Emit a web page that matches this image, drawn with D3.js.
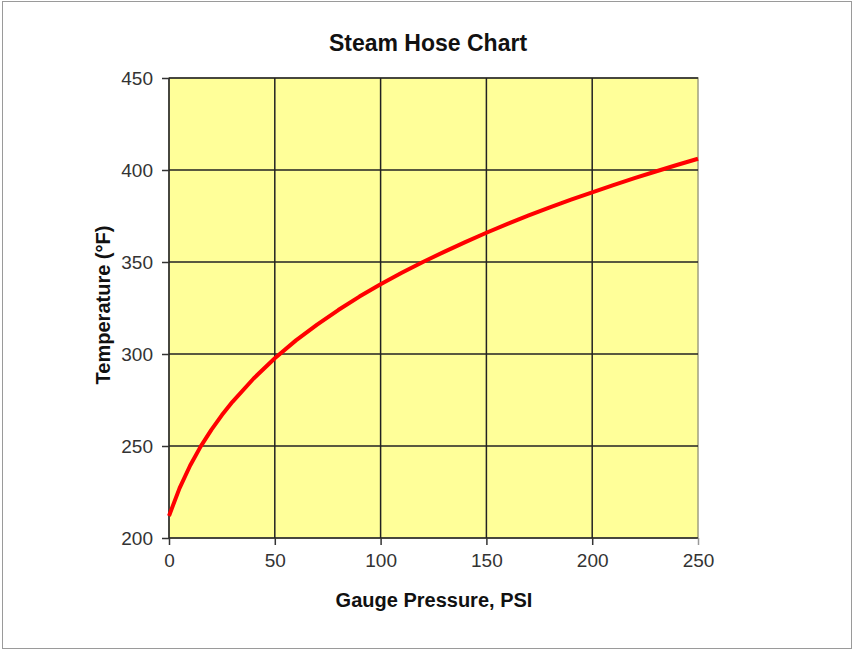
<!DOCTYPE html>
<html lang="en">
<head>
    <meta charset="UTF-8">
    <title>Steam Hose Chart</title>
    <script src="https://d3js.org/d3.v7.min.js"></script>
    <style>
        body { margin: 0; background: #fff; }
        text { font-family: "Liberation Sans", Arial, sans-serif; }
    </style>
</head>
<body>
    <div id="chart"></div>

    <script>
        // Gauge pressure (psi) and saturated steam temperature (°F)
        const pressure = [0, 5, 10, 15, 20, 25, 30, 40, 50, 60, 70, 80, 90, 100, 110, 120, 130, 140,
                          150, 160, 170, 180, 190, 200, 210, 220, 230, 240, 250];
        const temperature = [212.0, 227.1, 239.4, 249.8, 258.8, 266.8, 274.0, 286.7, 297.7, 307.4, 316.0,
                             323.9, 331.2, 337.9, 344.1, 350.0, 355.5, 360.8, 365.9, 370.7, 375.3, 379.7,
                             383.9, 387.9, 391.8, 395.6, 399.2, 402.7, 406.1];
        const xTicks = [0, 50, 100, 150, 200, 250];
        const yTicks = [200, 250, 300, 350, 400, 450];

        const width = 853, height = 650;
        const margin = { top: 78, right: 155, bottom: 112, left: 169 };
        const plotW = width - margin.left - margin.right;
        const plotH = height - margin.top - margin.bottom;

        const svg = d3.select("#chart")
            .append("svg")
            .attr("width", width)
            .attr("height", height);

        // outer frame
        svg.append("rect")
            .attr("x", 2.5).attr("y", 1.5)
            .attr("width", 849).attr("height", 647)
            .attr("fill", "none")
            .attr("stroke", "#9a9a9a")
            .attr("stroke-width", 1);

        const g = svg.append("g")
            .attr("transform", "translate(" + margin.left + "," + margin.top + ")");

        const x = d3.scaleLinear().domain([0, 250]).range([0, plotW]);
        const y = d3.scaleLinear().domain([200, 450]).range([plotH, 0]);

        // plot background
        g.append("rect")
            .attr("width", plotW)
            .attr("height", plotH)
            .attr("fill", "#ffff99")
            .attr("stroke", "#a0a080")
            .attr("stroke-width", 1.5);

        // gridlines
        g.selectAll(".vgrid")
            .data(xTicks.filter(d => d < 250))
            .enter().append("line")
            .attr("class", "vgrid")
            .attr("x1", d => x(d)).attr("x2", d => x(d))
            .attr("y1", 0).attr("y2", plotH)
            .attr("stroke", "#222")
            .attr("stroke-width", 1.5);

        g.selectAll(".hgrid")
            .data(yTicks)
            .enter().append("line")
            .attr("class", "hgrid")
            .attr("x1", 0).attr("x2", plotW)
            .attr("y1", d => y(d)).attr("y2", d => y(d))
            .attr("stroke", "#222")
            .attr("stroke-width", 1.5);

        // axes
        const xAxis = g.append("g")
            .attr("transform", "translate(0," + plotH + ")")
            .call(d3.axisBottom(x).tickValues(xTicks).tickSize(7).tickPadding(9));
        const yAxis = g.append("g")
            .call(d3.axisLeft(y).tickValues(yTicks).tickSize(7).tickPadding(9));

        [xAxis, yAxis].forEach(a => {
            a.select(".domain").remove();
            a.selectAll(".tick line").attr("stroke", "#333").attr("stroke-width", 1.5);
            a.selectAll(".tick text")
                .attr("fill", "#333")
                .style("font-size", "19px")
                .style("font-family", "'Liberation Sans', Arial, sans-serif");
        });
        xAxis.selectAll(".tick").filter(d => d === 250).select("line").attr("stroke", "#999");

        // curve
        const points = pressure.map((p, i) => [p, temperature[i]]);
        g.append("path")
            .datum(points)
            .attr("fill", "none")
            .attr("stroke", "#ff0000")
            .attr("stroke-width", 4)
            .attr("stroke-linejoin", "round")
            .attr("d", d3.line().x(d => x(d[0])).y(d => y(d[1])));

        // title
        svg.append("text")
            .attr("x", 428)
            .attr("y", 51)
            .attr("text-anchor", "middle")
            .style("font-size", "23px")
            .style("font-weight", "bold")
            .attr("fill", "#111")
            .text("Steam Hose Chart");

        // x label
        svg.append("text")
            .attr("x", 434)
            .attr("y", 607)
            .attr("text-anchor", "middle")
            .style("font-size", "20px")
            .style("font-weight", "bold")
            .attr("fill", "#111")
            .text("Gauge Pressure, PSI");

        // y label
        svg.append("text")
            .attr("transform", "translate(110," + (margin.top + plotH / 2 - 3) + ") rotate(-90)")
            .attr("text-anchor", "middle")
            .style("font-size", "20px")
            .style("font-weight", "bold")
            .attr("fill", "#111")
            .text("Temperature (°F)");
    </script>
</body>
</html>
